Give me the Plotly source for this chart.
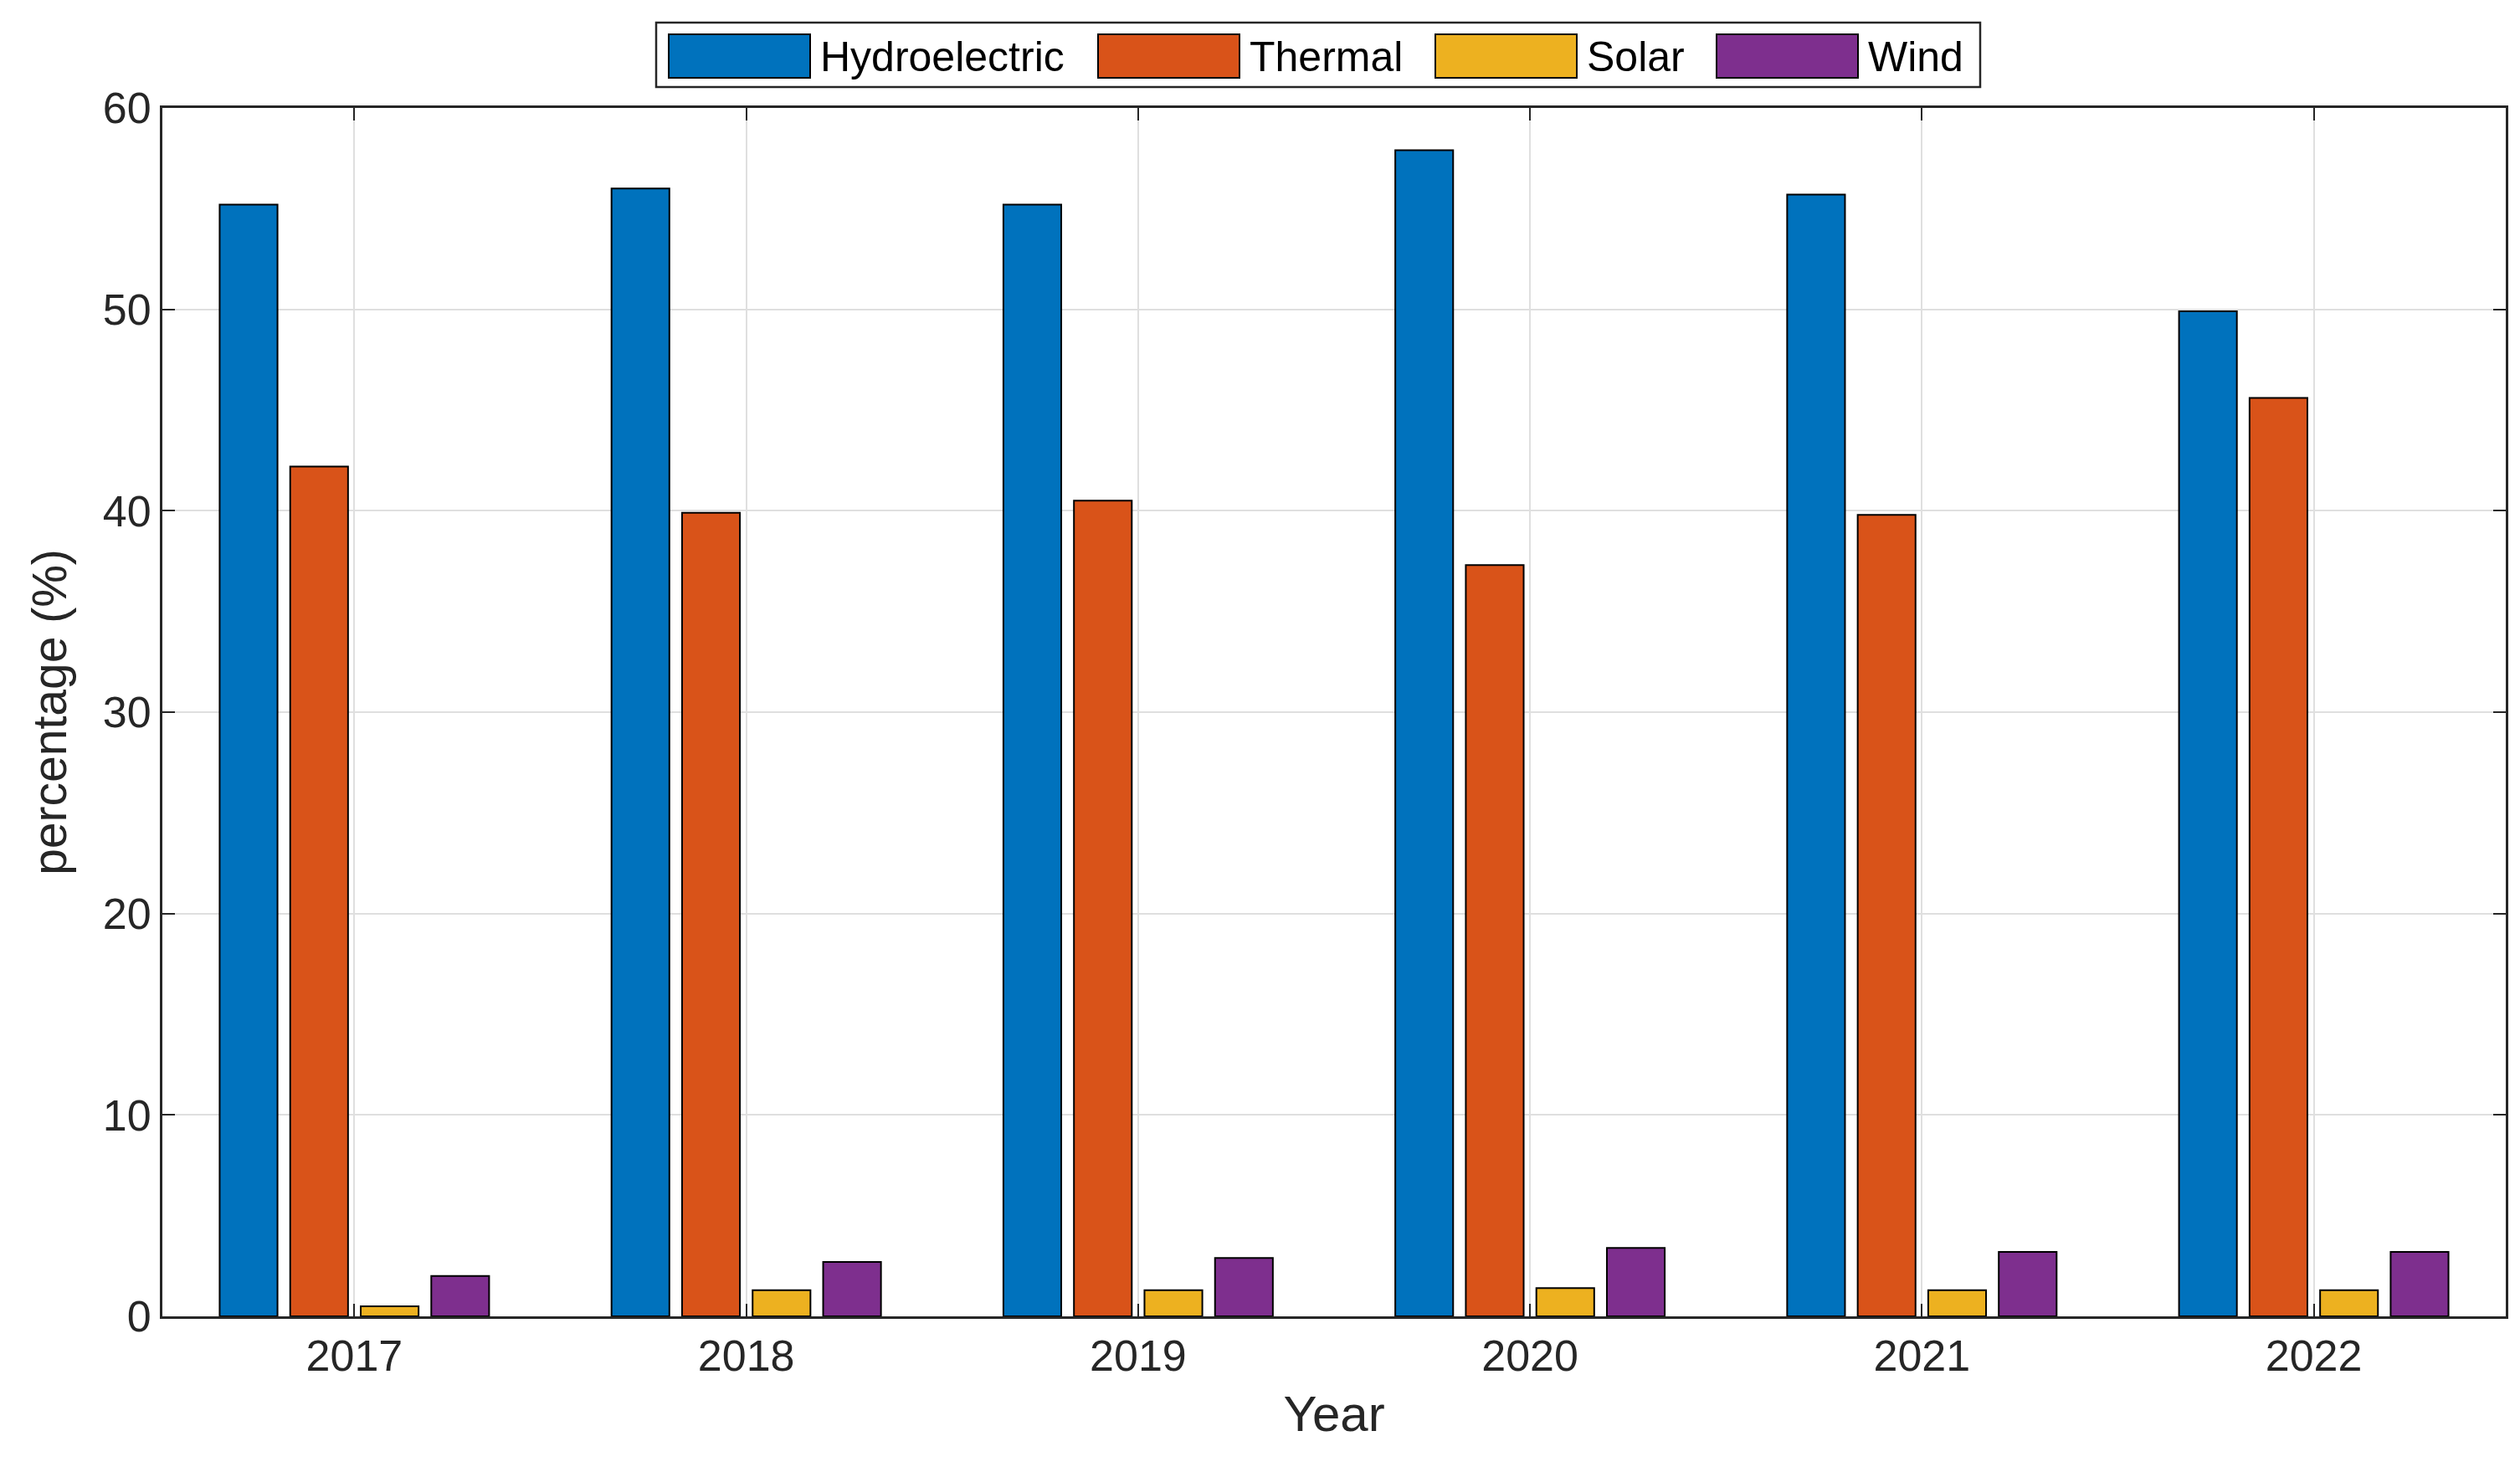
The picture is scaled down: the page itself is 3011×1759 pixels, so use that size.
import plotly.graph_objects as go

years = [2017, 2018, 2019, 2020, 2021, 2022]
series_names = ["Hydroelectric", "Thermal", "Solar", "Wind"]
hydro = [55.2, 56.0, 55.2, 57.9, 55.7, 49.9]
thermal = [42.2, 39.9, 40.5, 37.3, 39.8, 45.6]
solar = [0.5, 1.3, 1.3, 1.4, 1.3, 1.3]
wind = [2.0, 2.7, 2.9, 3.4, 3.2, 3.2]
y_ticks = [0, 10, 20, 30, 40, 50, 60]

colors = ["#0072BD", "#D95319", "#EDB120", "#7E2F8E"]
series_values = [hydro, thermal, solar, wind]

W, H = 3011, 1759
ML, MR, MT, MB = 186, 25, 121, 194
PW, PH = W - ML - MR, H - MT - MB
TXT = "#262626"
FONT = "Liberation Sans, Arial, Helvetica, sans-serif"

def px_x(p):
    return (p - ML) / PW

def px_y(p):
    return 1 - (p - MT) / PH

fig = go.Figure()
for name, vals, col in zip(series_names, series_values, colors):
    fig.add_trace(go.Bar(
        x=years, y=vals, name=name,
        marker=dict(color=col, line=dict(color="black", width=2)),
        showlegend=False,
    ))

# custom MATLAB-like legend
shapes = [dict(type="rect", xref="paper", yref="paper",
               x0=px_x(776), x1=px_x(2358), y0=px_y(96), y1=px_y(19),
               line=dict(color=TXT, width=2.5), fillcolor="white", layer="above")]
annotations = []
swatch_x = [791, 1304, 1707, 2043]
sw_w = 169
for sx, name, col in zip(swatch_x, series_names, colors):
    shapes.append(dict(type="rect", xref="paper", yref="paper",
                       x0=px_x(sx), x1=px_x(sx + sw_w), y0=px_y(85), y1=px_y(33),
                       line=dict(color="black", width=2), fillcolor=col, layer="above"))
    annotations.append(dict(xref="paper", yref="paper", x=px_x(sx + sw_w + 10), y=px_y(60),
                            text=name, showarrow=False, xanchor="left", yanchor="middle",
                            font=dict(family=FONT, size=50, color="black")))

fig.update_layout(
    width=W, height=H,
    margin=dict(l=ML, r=MR, t=MT, b=MB),
    paper_bgcolor="white", plot_bgcolor="white",
    barmode="group", bargap=0.28, bargroupgap=0.18,
    font=dict(family=FONT, color=TXT),
    shapes=shapes, annotations=annotations,
    showlegend=False,
)
fig.update_xaxes(
    range=[2016.51, 2022.49], tickmode="array", tickvals=years,
    ticktext=[str(y) for y in years],
    tickfont=dict(size=52, color=TXT),
    ticks="inside", ticklen=15, tickwidth=2, tickcolor=TXT,
    showline=True, linecolor=TXT, linewidth=3, mirror="ticks",
    showgrid=True, gridcolor="#DFDFDF", gridwidth=2,
    zeroline=False,
    title=dict(text="Year", font=dict(size=60, color=TXT), standoff=20),
)
fig.update_yaxes(
    range=[0, 60], tickmode="array", tickvals=y_ticks,
    tickfont=dict(size=52, color=TXT),
    ticks="inside", ticklen=15, tickwidth=2, tickcolor=TXT,
    showline=True, linecolor=TXT, linewidth=3, mirror="ticks",
    showgrid=True, gridcolor="#DFDFDF", gridwidth=2,
    zeroline=False,
    title=dict(text="percentage (%)", font=dict(size=57, color=TXT), standoff=25),
)

fig.write_html("out.html")
